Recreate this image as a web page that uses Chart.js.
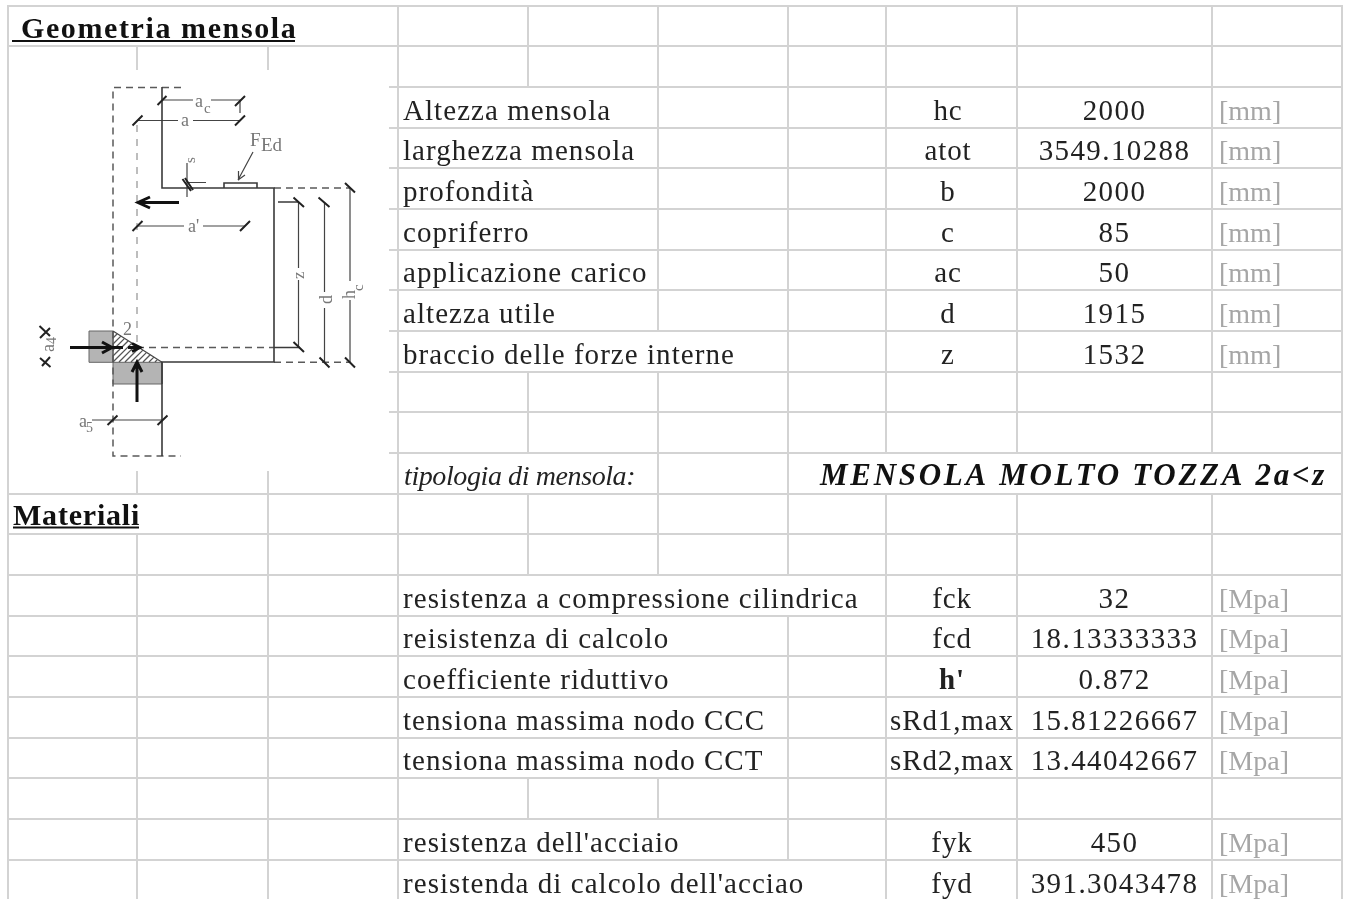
<!DOCTYPE html>
<html>
<head>
<meta charset="utf-8">
<title>Geometria mensola</title>
<script src="https://cdn.jsdelivr.net/npm/chart.js@4/dist/chart.umd.min.js"></script>
<style>
  html, body { margin: 0; padding: 0; background: #fff; }
  canvas { display: block; }
</style>
</head>
<body>
<canvas id="foglio" width="1346" height="899"></canvas>
<script>
// --- valori del foglio ---
const righeGeometria = ['Altezza mensola', 'larghezza mensola', 'profondità', 'copriferro', 'applicazione carico', 'altezza utile', 'braccio delle forze interne'];
const simboliGeometria = ['hc', 'atot', 'b', 'c', 'ac', 'd', 'z'];
const valoriGeometria = ['2000', '3549.10288', '2000', '85', '50', '1915', '1532'];
const unitaGeometria = ['[mm]', '[mm]', '[mm]', '[mm]', '[mm]', '[mm]', '[mm]'];

const righeMateriali = ['resistenza a compressione cilindrica', 'reisistenza di calcolo', 'coefficiente riduttivo', 'tensiona massima nodo CCC', 'tensiona massima nodo CCT', '', "resistenza dell'acciaio", "resistenda di calcolo dell'acciao"];
const simboliMateriali = ['fck', 'fcd', "h'", 'sRd1,max', 'sRd2,max', '', 'fyk', 'fyd'];
const valoriMateriali = ['32', '18.13333333', '0.872', '15.81226667', '13.44042667', '', '450', '391.3043478'];
const unitaMateriali = ['[Mpa]', '[Mpa]', '[Mpa]', '[Mpa]', '[Mpa]', '', '[Mpa]', '[Mpa]'];

const titoloGeometria = ' Geometria mensola';
const titoloMateriali = 'Materiali';
const etichettaTipologia = 'tipologia di mensola:';
const valoreTipologia = 'MENSOLA MOLTO TOZZA 2a<z';

// griglia: bordi di colonna e di riga, e per ogni riga i bordi verticali coperti dal testo
const bordiColonne = [8, 137, 268, 398, 528, 658, 788, 886, 1017, 1212, 1342];
const bordiRighe = [6, 46, 87, 128, 168, 209, 250, 290, 331, 372, 412, 453, 494, 534, 575, 616, 656, 697, 738, 778, 819, 860, 901];
const bordiNascosti = [[1, 2], [], [4], [4], [4], [4], [4], [4], [4, 5], [], [], [4, 7, 8, 9], [1], [], [4, 5, 6], [4, 5], [4, 5], [4, 5], [4, 5], [], [4, 5], [4, 5, 6]];

// --- disegno della mensola ---
const profiloSolido = [
  [[162, 87], [162, 188], [274, 188], [274, 362], [162, 362], [162, 456]],
  [[224, 188], [224, 183], [257, 183], [257, 188]],
  [[274, 347.5], [300, 347.5]],
  [[278, 202], [298, 202]]
];
const quoteSottili = [
  [[162, 100], [193, 100]], [[211, 100], [240, 100], [240, 113]],
  [[137, 120.5], [178, 120.5]], [[193, 120.5], [240, 120.5]],
  [[137, 226], [184, 226]], [[203, 226], [245, 226]],
  [[298.5, 202], [298.5, 268]], [[298.5, 280], [298.5, 347]],
  [[324.5, 202], [324.5, 292]], [[324.5, 308], [324.5, 362]],
  [[350, 188], [350, 281]], [[350, 300], [350, 362]],
  [[187, 163], [187, 197]], [[187, 182.5], [206, 182.5]],
  [[253, 152], [238, 180]], [[238, 180], [238.5, 171]], [[238, 180], [245, 175]],
  [[92, 420], [162, 420]]
];
const tacche = [
  [[157.5, 105], [166.5, 96]], [[235, 106], [245, 96]],
  [[132.5, 125.5], [142.5, 115.5]], [[235, 125.5], [245, 115.5]],
  [[132.5, 231], [142.5, 221]], [[240, 231], [250, 221]],
  [[293.5, 197.5], [304, 207]], [[318.5, 197.5], [329.5, 207]], [[345, 183], [355, 192.5]],
  [[293.5, 342], [304, 352]], [[319.5, 357.5], [329.5, 367.5]], [[345, 357.5], [355, 367.5]],
  [[182.5, 179], [191, 191]], [[185, 178], [193, 190]],
  [[107.5, 425], [117.5, 415.5]], [[157.5, 425], [167.5, 415.5]],
  [[39.5, 326], [50, 336]], [[40, 338], [50, 328]],
  [[40, 358], [50.5, 367]], [[42, 366], [50, 357]]
];
const tratteggioScuro = [
  [[181, 87.5], [113, 87.5], [113, 456], [181, 456]],
  [[274, 188], [350, 188]],
  [[274, 362.3], [350, 362.3]],
  [[137, 347.5], [274, 347.5]]
];
const tratteggioChiaro = [
  [[137, 125], [137, 347]]
];
const frecce = [
  [[179, 202.5], [138, 202.5]], [[150, 197], [138, 202.5], [150, 208]],
  [[70, 347.5], [123, 347.5]], [[102, 342], [112, 347.5], [102, 353]],
  [[128, 347.5], [140, 347.5]], [[132, 343.5], [140, 347.5], [132, 351.5]],
  [[137, 402], [137, 362]], [[132, 372], [137, 362], [142, 372]]
];
const bloccoSinistro = [[89, 331], [113, 331], [113, 362.3], [89, 362.3], [89, 331]];
const bloccoBasso = [[113, 362.3], [162, 362.3], [162, 384], [113, 384], [113, 362.3]];
const contornoNodo = [[113, 331], [162, 362.3]];
const trattiNodo = [
  [[113, 338], [117.3, 333.7]], [[113, 344], [120.9, 336.1]], [[113, 350], [124.6, 338.4]],
  [[113, 356], [128.3, 340.7]], [[113, 362], [131.9, 343.1]], [[119, 362], [135.6, 345.4]],
  [[125, 362], [139.2, 347.8]], [[131, 362], [142.9, 350.1]], [[137, 362], [146.6, 352.4]],
  [[143, 362], [150.2, 354.8]], [[149, 362], [153.9, 357.1]], [[155, 362], [157.6, 359.4]]
];
const etichetteFigura = [
  { t: 'a', x: 195, y: 107, s: 18 }, { t: 'c', x: 204, y: 113, s: 15 },
  { t: 'a', x: 181, y: 126, s: 18 }, { t: "a'", x: 188, y: 232, s: 18 },
  { t: 'F', x: 250, y: 146, s: 19 }, { t: 'Ed', x: 261, y: 151, s: 19 },
  { t: '2', x: 123, y: 335, s: 18 }, { t: 'a', x: 79, y: 427, s: 18 }, { t: '5', x: 86, y: 432, s: 14 },
  { t: 's', x: 195, y: 163, s: 15, r: -90 }, { t: 'z', x: 304, y: 279, s: 17, r: -90 },
  { t: 'd', x: 332, y: 304, s: 18, r: -90 }, { t: 'h', x: 355, y: 299, s: 18, r: -90 },
  { t: 'c', x: 363, y: 291, s: 15, r: -90 }, { t: 'a', x: 54, y: 352, s: 18, r: -90 }, { t: '4', x: 56, y: 344, s: 14, r: -90 }
];

// spezza le polilinee con NaN, cosi' la linea di Chart.js non le unisce
function unisciTratti(linee) {
  const punti = [];
  linee.forEach(linea => {
    linea.forEach(p => punti.push({ x: p[0], y: p[1] }));
    punti.push({ x: NaN, y: NaN });
  });
  return punti;
}

function trattiGriglia() {
  const linee = [];
  bordiRighe.forEach(y => linee.push([[bordiColonne[0] - 1, y], [bordiColonne[10] + 1, y]]));
  bordiColonne.forEach((x, c) => {
    for (let r = 0; r < bordiRighe.length - 1; r++) {
      if (!bordiNascosti[r].includes(c)) linee.push([[x, bordiRighe[r]], [x, bordiRighe[r + 1]]]);
    }
  });
  return linee;
}

function serie(linee, colore, spessore, extra) {
  return Object.assign({
    data: unisciTratti(linee),
    showLine: true,
    spanGaps: false,
    borderColor: colore,
    borderWidth: spessore,
    pointRadius: 0,
    tension: 0,
    fill: false
  }, extra || {});
}

const pluginTesti = {
  id: 'testiFoglio',
  afterDatasetsDraw(chart) {
    const c = chart.ctx;
    const sx = chart.scales.x;
    const sy = chart.scales.y;

    function scrivi(testo, x, y, font, colore, spaziatura, allinea) {
      c.save();
      c.font = font;
      c.fillStyle = colore;
      c.letterSpacing = spaziatura + 'px';
      c.textAlign = allinea || 'left';
      c.textBaseline = 'alphabetic';
      c.fillText(testo, sx.getPixelForValue(x), sy.getPixelForValue(y));
      c.restore();
    }
    const normale = '29px "Liberation Serif"';

    function sottolinea(x0, x1, y) {
      c.save();
      c.strokeStyle = '#111';
      c.lineWidth = 2;
      c.beginPath();
      c.moveTo(sx.getPixelForValue(x0), sy.getPixelForValue(y));
      c.lineTo(sx.getPixelForValue(x1), sy.getPixelForValue(y));
      c.stroke();
      c.restore();
    }

    function blocco(etichette, simboli, valori, unita, rigaIniziale, xSimbolo) {
      etichette.forEach((e, i) => {
        if (!e) return;
        const y = bordiRighe[rigaIniziale + i + 1] - 8;
        scrivi(e, 403, y, normale, '#222', 1.05);
        const grassetto = simboli[i] === "h'";
        scrivi(simboli[i], xSimbolo, y, (grassetto ? 'bold ' : '') + normale, '#222', 0.9, 'center');
        scrivi(valori[i], 1114.5, y, normale, '#222', 1.4, 'center');
        scrivi(unita[i], 1219, y, '28px "Liberation Serif"', '#a6a6a6', 0);
      });
    }

    blocco(righeGeometria, simboliGeometria, valoriGeometria, unitaGeometria, 2, 948);
    blocco(righeMateriali, simboliMateriali, valoriMateriali, unitaMateriali, 14, 952);

    scrivi(titoloGeometria.trim(), 21, 38, 'bold 30px "Liberation Serif"', '#111', 1.6);
    sottolinea(12, 295, 41);
    scrivi(titoloMateriali, 13, 525, 'bold 30px "Liberation Serif"', '#111', 0.8);
    sottolinea(13, 139, 527.5);
    scrivi(etichettaTipologia, 404, 485, 'italic 28px "Liberation Serif"', '#222', -0.4);
    scrivi(valoreTipologia, 820, 485, 'italic bold 31px "Liberation Serif"', '#111', 2.7);

    etichetteFigura.forEach(e => {
      c.save();
      c.font = e.s + 'px "Liberation Serif"';
      c.fillStyle = '#777';
      c.translate(sx.getPixelForValue(e.x), sy.getPixelForValue(e.y));
      if (e.r) c.rotate(e.r * Math.PI / 180);
      c.fillText(e.t, 0, 0);
      c.restore();
    });
  }
};

document.addEventListener('DOMContentLoaded', () => {
  const ctx = document.getElementById('foglio').getContext('2d');
  const riquadroFigura = [[9, 70], [389, 70], [389, 471], [9, 471], [9, 70]];

  // l'ordine conta: con order piu' alto il dataset viene disegnato prima
  const datasets = [
    serie(trattiGriglia(), '#d3d3d3', 2, { order: 10 }),
    serie([riquadroFigura], '#ffffff', 0, { order: 9, fill: 'shape', backgroundColor: '#ffffff' }),
    serie([bloccoSinistro], '#666', 1, { order: 8, fill: 'shape', backgroundColor: '#b4b4b4' }),
    serie([bloccoBasso], '#666', 1, { order: 8, fill: 'shape', backgroundColor: '#b4b4b4' }),
    serie(tratteggioChiaro, '#a8a8a8', 1.5, { order: 7, borderDash: [7, 7] }),
    serie(tratteggioScuro, '#5a5a5a', 1.5, { order: 7, borderDash: [7, 5] }),
    serie(trattiNodo, '#555', 1.3, { order: 6 }),
    serie([contornoNodo], '#444', 1.2, { order: 6 }),
    serie(quoteSottili, '#444', 1.2, { order: 5 }),
    serie(profiloSolido, '#3a3a3a', 1.6, { order: 4 }),
    serie(tacche, '#222', 2, { order: 3 }),
    serie(frecce, '#111', 3, { order: 2 })
  ];

  new Chart(ctx, {
    type: 'scatter',
    data: { datasets: datasets },
    options: {
      responsive: false,
      animation: false,
      layout: { padding: 0 },
      plugins: { legend: { display: false }, tooltip: { enabled: false }, title: { display: false } },
      scales: {
        x: { type: 'linear', min: 0, max: 1346, display: false },
        y: { type: 'linear', min: 0, max: 899, reverse: true, display: false }
      }
    },
    plugins: [pluginTesti]
  });
});
</script>
</body>
</html>
